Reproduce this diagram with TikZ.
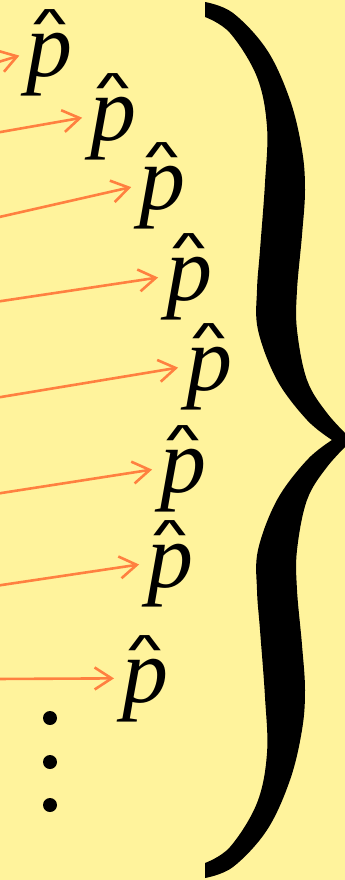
\documentclass[tikz,border=0pt]{standalone}
\usepackage{fontspec}
\usepackage{graphicx}
\setmainfont{Liberation Serif}
\newfontfamily\hatfont{Liberation Sans}
\usetikzlibrary{arrows.meta}
\definecolor{bg}{RGB}{255,243,156}
\definecolor{arrorange}{RGB}{255,128,64}
\newcommand\myphat{\rlap{\hspace{5.5pt}\raisebox{43pt}{\scalebox{1}[0.58]{\fontsize{60}{60}\hatfont\bfseries\upshape\char"5E}}}p}
\begin{document}
\begin{tikzpicture}[x=1pt,y=-1pt,
  phat/.style={anchor=base west,inner sep=0pt,outer sep=0pt,font=\fontsize{92}{92}\selectfont\itshape},
  arr/.style={draw=arrorange,line width=2.6pt,-{Straight Barb[length=17pt,width=22pt]},shorten >=8pt},
  dotfill/.style={fill=black}]
\useasboundingbox (0,0) rectangle (345,880);
\fill[bg] (0,0) rectangle (345,880);
% p-hat nodes
\node[phat] (p1) at (27,77) {\myphat};
\node[phat] (p2) at (90,140) {\myphat};
\node[phat] (p3) at (139,209) {\myphat};
\node[phat] (p4) at (166,300) {\myphat};
\node[phat] (p5) at (186,390) {\myphat};
\node[phat] (p6) at (160,492) {\myphat};
\node[phat] (p7) at (147,587) {\myphat};
\node[phat] (p8) at (122,702) {\myphat};
% arrow start points
\coordinate (s1) at (-5,63);
\coordinate (s2) at (-5,133);
\coordinate (s3) at (-5,218);
\coordinate (s4) at (-5,302);
\coordinate (s5) at (-5,398);
\coordinate (s6) at (-5,494);
\coordinate (s7) at (-5,586);
\coordinate (s8) at (-5,679);
\foreach \i in {1,...,8} {\draw[arr] (s\i) -- (p\i.west);}
% dots
\fill[dotfill] (50,718) circle (7);
\fill[dotfill] (50,762) circle (7);
\fill[dotfill] (50,805) circle (7);
% brace
\fill[black]
  plot[smooth,tension=0.6] coordinates {(205,2) (233,13) (267,50) (290,100) (302,150) (305,190) (302,235) (297,290) (297,330) (307,380) (327,413) (352,440)}
  -- plot[smooth,tension=0.6] coordinates {(352,440) (327,467) (307,500) (297,550) (297,590) (302,645) (305,690) (302,730) (290,780) (267,830) (233,867) (205,878)}
  -- plot[smooth,tension=0.6] coordinates {(205,863) (230,847) (257,803) (267,753) (265,697) (260,630) (257,590) (258,550) (277,500) (307,460) (332,440)}
  -- plot[smooth,tension=0.6] coordinates {(332,440) (307,420) (277,380) (258,330) (257,290) (260,250) (265,183) (267,127) (257,77) (230,33) (205,17)}
  -- cycle;
\end{tikzpicture}
\end{document}
